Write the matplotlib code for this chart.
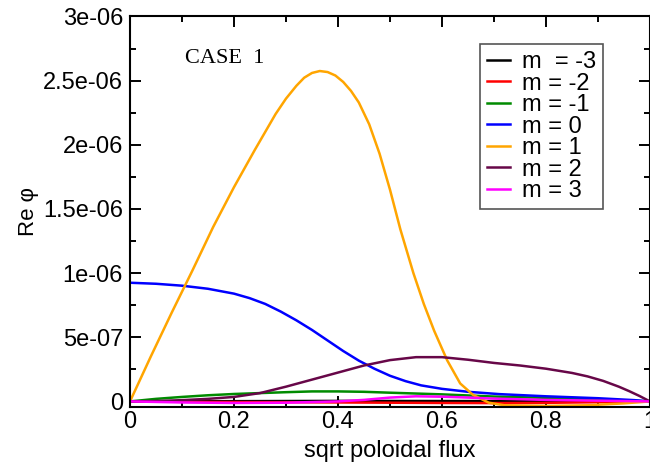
import matplotlib
matplotlib.use('Agg')
import matplotlib.pyplot as plt
from matplotlib.ticker import MultipleLocator, FuncFormatter

# Re phi (units of 1e-6) against sqrt poloidal flux
x_m3 = [0, 0.2, 0.4, 0.6, 0.8, 1.0]
y_m3 = [0, 0.002, 0.004, 0.003, 0.002, 0]

x_m2 = [0, 0.1, 0.2, 0.3, 0.4, 0.5, 0.6, 0.7, 0.8, 0.9, 1.0]
y_m2 = [0, -0.003, -0.005, -0.006, -0.008, -0.01, -0.012, -0.013, -0.011, -0.006, 0]

x_m1 = [0, 0.05, 0.1, 0.15, 0.2, 0.25, 0.3, 0.35, 0.4, 0.45, 0.5, 0.6, 0.7, 0.8, 0.9, 1.0]
y_m1 = [0, 0.02, 0.035, 0.048, 0.058, 0.065, 0.072, 0.078, 0.078, 0.075, 0.068, 0.055,
        0.038, 0.028, 0.016, 0]

x_m0 = [0, 0.05, 0.1, 0.15, 0.2, 0.23, 0.26, 0.29, 0.32, 0.35, 0.38, 0.41, 0.44,
        0.47, 0.5, 0.53, 0.56, 0.6, 0.65, 0.71, 0.8, 0.9, 0.97, 1.0]
y_m0 = [0.925, 0.917, 0.902, 0.878, 0.84, 0.805, 0.76, 0.7, 0.632, 0.557, 0.475, 0.393,
        0.318, 0.255, 0.2, 0.158, 0.125, 0.098, 0.075, 0.057, 0.04, 0.025, 0.01, 0]

x_p1 = [0, 0.04, 0.08, 0.12, 0.16, 0.2, 0.24, 0.28, 0.3, 0.32, 0.335, 0.35, 0.365,
        0.38, 0.395, 0.41, 0.425, 0.44, 0.46, 0.48, 0.5, 0.52, 0.545, 0.565, 0.585,
        0.61, 0.635, 0.66, 0.69, 0.72, 0.8, 0.88, 0.95, 1.0]
y_p1 = [0, 0.35, 0.69, 1.02, 1.36, 1.67, 1.96, 2.24, 2.36, 2.46, 2.523, 2.56, 2.575,
        2.567, 2.54, 2.49, 2.42, 2.33, 2.16, 1.93, 1.65, 1.34, 1.0, 0.76, 0.55,
        0.32, 0.14, 0.05, -0.01, -0.03, -0.035, -0.03, -0.015, 0]

x_p2 = [0, 0.05, 0.1, 0.15, 0.2, 0.25, 0.3, 0.35, 0.4, 0.45, 0.5, 0.55, 0.6, 0.65,
        0.7, 0.75, 0.8, 0.85, 0.88, 0.91, 0.94, 0.96, 0.98, 1.0]
y_p2 = [0, 0.003, 0.01, 0.02, 0.035, 0.065, 0.115, 0.17, 0.225, 0.28, 0.322, 0.345,
        0.345, 0.325, 0.3, 0.28, 0.255, 0.222, 0.195, 0.16, 0.115, 0.08, 0.042, 0]

x_p3 = [0, 0.1, 0.2, 0.3, 0.4, 0.45, 0.5, 0.55, 0.6, 0.65, 0.7, 0.8, 0.9, 1.0]
y_p3 = [0, -0.008, -0.012, -0.01, 0.0, 0.012, 0.03, 0.04, 0.037, 0.03, 0.022, 0.012,
        0.006, 0]

labels = ['m  = -3', 'm = -2', 'm = -1', 'm = 0', 'm = 1', 'm = 2', 'm = 3']
colors = ['black', '#ff0000', '#008b00', '#0000ff', '#ffa500', '#670748', '#ff00ff']

plt.rcParams['font.family'] = ['Liberation Sans', 'DejaVu Sans']

fig = plt.figure(figsize=(6.5, 4.62), dpi=100)
fig.subplots_adjust(left=0.2, right=1.0, bottom=0.12, top=0.9643)
ax = fig.add_subplot(1, 1, 1)

series = [(x_m3, y_m3), (x_m2, y_m2), (x_m1, y_m1), (x_m0, y_m0),
          (x_p1, y_p1), (x_p2, y_p2), (x_p3, y_p3)]
for (xs, ys), lab, c in zip(series, labels, colors):
    ax.plot(xs, [v * 1e-6 for v in ys], color=c, lw=1.8, label=lab,
            solid_joinstyle='round')

ax.set_xlim(0, 1)
ax.set_ylim(-0.04e-6, 3e-6)

ax.xaxis.set_major_locator(MultipleLocator(0.2))
ax.xaxis.set_minor_locator(MultipleLocator(0.1))
ax.yaxis.set_major_locator(MultipleLocator(5e-7))
ax.yaxis.set_minor_locator(MultipleLocator(2.5e-7))
fmt = FuncFormatter(lambda v, pos: '%g' % round(v, 12))
ax.xaxis.set_major_formatter(fmt)
ax.yaxis.set_major_formatter(fmt)

ax.tick_params(which='both', direction='in', top=True, right=True, width=1.4,
               labelsize=17)
ax.tick_params(which='major', length=8)
ax.tick_params(which='minor', length=4.3)
ax.tick_params(axis='x', pad=3)
ax.tick_params(axis='y', pad=5)
for s in ax.spines.values():
    s.set_linewidth(1.5)

ax.set_xlabel('sqrt poloidal flux', fontsize=17, labelpad=5)
ax.set_ylabel('Re \u03c6', fontsize=16)
ax.yaxis.set_label_coords(-0.175, 0.5)

fig.text(185 / 650, 1 - 63 / 462, 'CASE  1', family='Liberation Serif',
         fontsize=16, va='baseline')

leg = ax.legend(loc='upper left', bbox_to_anchor=(480 / 650, 1 - 44 / 462),
                bbox_transform=fig.transFigure, borderaxespad=0, fontsize=17,
                handlelength=0.97, handletextpad=0.5, borderpad=0.3,
                labelspacing=-0.02, fancybox=False, framealpha=1)
leg.get_frame().set_edgecolor('#555555')
leg.get_frame().set_linewidth(1.2)

fig.savefig('out.png', dpi=100)
